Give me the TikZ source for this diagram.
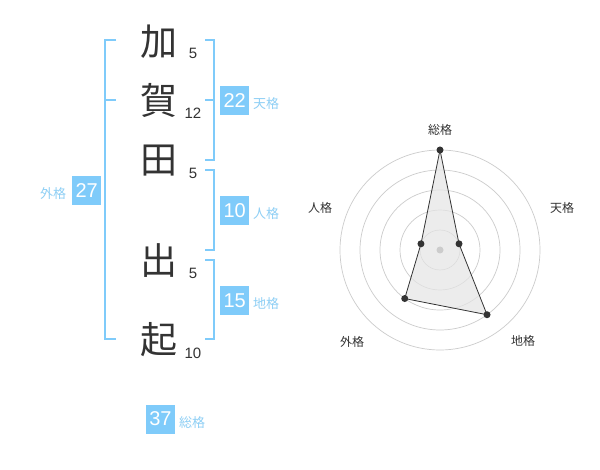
\documentclass[tikz,border=0pt]{standalone}
\usepackage{fontspec}
\usetikzlibrary{calc}
\setmainfont{Liberation Sans}
\newfontfamily\jp{Noto Sans CJK JP}
\definecolor{kblue}{HTML}{7FCBFA}
\definecolor{klab}{HTML}{8ECFF5}
\definecolor{kdark}{HTML}{333333}
\definecolor{kgrid}{HTML}{CCCCCC}
\tikzset{
  bracketline/.style={draw=kblue, line width=2pt},
  kanji/.style={font=\jp\fontsize{37}{40}\selectfont, text=kdark, inner sep=0pt},
  strokes/.style={font=\fontsize{15}{17}\selectfont, text=kdark, inner sep=0pt},
  numbox/.style={fill=kblue, text=white, minimum width=29pt, minimum height=29pt, inner sep=0pt, font=\fontsize{20}{22}\selectfont},
  kakulab/.style={font=\jp\fontsize{13}{14}\selectfont, text=klab, inner sep=0pt},
  radarlab/.style={font=\jp\fontsize{12}{14}\selectfont, text=kdark, inner sep=0pt},
  gridcircle/.style={draw=kgrid, line width=0.7pt},
  dot/.style={circle, fill=kdark, minimum size=7pt, inner sep=0pt},
}
\begin{document}
\begin{tikzpicture}[x=1pt,y=-1pt]
\useasboundingbox (0,0) rectangle (600,470);
\fill[white] (0,0) rectangle (600,470);

% characters
\node[kanji] (c1) at (159,42) {加};
\node[kanji] (c2) at (159,100) {賀};
\node[kanji] (c3) at (159,161) {田};
\node[kanji] (c4) at (159,261) {出};
\node[kanji] (c5) at (159,340) {起};

% stroke counts
\node[strokes] (s1) at (193,53) {5};
\node[strokes] (s2) at (193,113) {12};
\node[strokes] (s3) at (193,173) {5};
\node[strokes] (s4) at (193,273) {5};
\node[strokes] (s5) at (193,353) {10};

% left bracket (外格)
\coordinate (l1) at (116,40);
\coordinate (l2) at (116,100);
\coordinate (l3) at (116,339);
\draw[bracketline] (l1) -- (105,40) -- (105,339) -- (l3);
\draw[bracketline] (105,100) -- (l2);

% right brackets
\coordinate (t1) at (205,40);
\coordinate (t2) at (205,100);
\coordinate (t3) at (205,160);
\draw[bracketline] (t1) -- (214,40) -- (214,160) -- (t3);
\draw[bracketline] (214,100) -- (t2);
\coordinate (j1) at (205,170);
\coordinate (j2) at (205,250);
\draw[bracketline] (j1) -- (214,170) -- (214,250) -- (j2);
\coordinate (g1) at (205,260);
\coordinate (g2) at (205,339);
\draw[bracketline] (g1) -- (214,260) -- (214,339) -- (g2);

% number boxes and labels
\node[numbox] (b22) at (234.7,100.5) {22};
\node[kakulab] (k22) at (266,104) {天格};
\node[numbox] (b10) at (234.7,210.5) {10};
\node[kakulab] (k10) at (266,214) {人格};
\node[numbox] (b15) at (234.7,300.5) {15};
\node[kakulab] (k15) at (266,304) {地格};
\node[numbox] (b27) at (86.7,190.5) {27};
\node[kakulab] (k27) at (53,194) {外格};
\node[numbox] (b37) at (160.5,419) {37};
\node[kakulab] (k37) at (192,423) {総格};

% radar chart
\coordinate (C) at (440,250);
\foreach \r in {20,40,60,80,100} \draw[gridcircle] (C) circle (\r);
\coordinate (pS) at ($(C)+(-90:100)$);
\coordinate (pT) at ($(C)+(-18:20)$);
\coordinate (pC) at ($(C)+(54:80)$);
\coordinate (pG) at ($(C)+(126:60)$);
\coordinate (pJ) at ($(C)+(198:20)$);
\fill[black!10, opacity=0.7] (pS) -- (pT) -- (pC) -- (pG) -- (pJ) -- cycle;
\draw[kdark, line width=0.8pt] (pS) -- (pT) -- (pC) -- (pG) -- (pJ) -- cycle;
\node[circle, fill=kgrid, minimum size=7pt, inner sep=0pt] (center) at (C) {};
\node[dot] (dS) at (pS) {};
\node[dot] (dT) at (pT) {};
\node[dot] (dC) at (pC) {};
\node[dot] (dG) at (pG) {};
\node[dot] (dJ) at (pJ) {};
\node[radarlab] (rS) at (440,130) {総格};
\node[radarlab] (rT) at (562,208) {天格};
\node[radarlab] (rJ) at (320,208) {人格};
\node[radarlab] (rG) at (352,342) {外格};
\node[radarlab] (rC) at (523,341) {地格};
\end{tikzpicture}
\end{document}
